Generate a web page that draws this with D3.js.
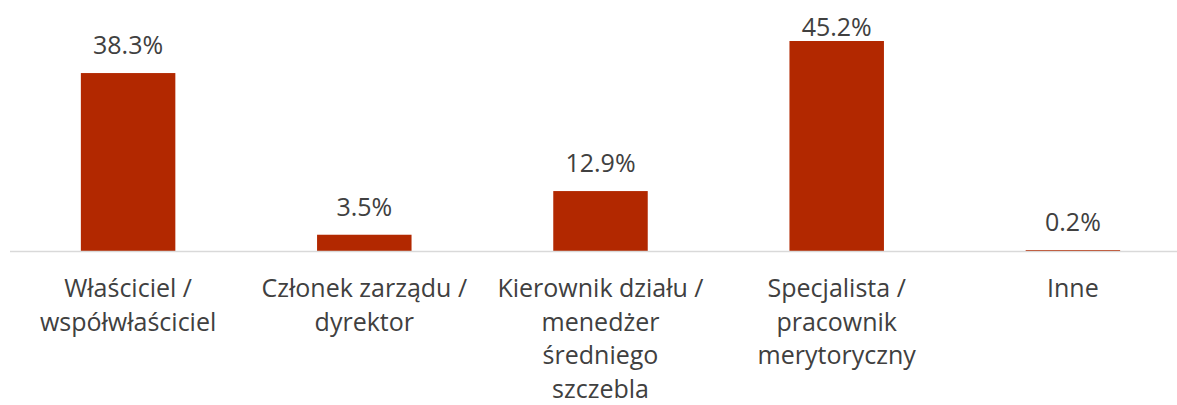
<!DOCTYPE html>
<html>
<head>
<meta charset="utf-8">
<script src="https://cdn.jsdelivr.net/npm/d3@7"></script>
<style>
  body { margin: 0; background: #fff; }
  svg text { font-family: "Open Sans", sans-serif; fill: #404040; }
</style>
</head>
<body>
<div class="chart"></div>
<script>
var categories = ["Właściciel / współwłaściciel", "Członek zarządu / dyrektor",
  "Kierownik działu / menedżer średniego szczebla", "Specjalista / pracownik merytoryczny", "Inne"]
// how each category label wraps in the picture
var labelLines = [
  ["Właściciel /", "współwłaściciel"],
  ["Członek zarządu /", "dyrektor"],
  ["Kierownik działu /", "menedżer", "średniego", "szczebla"],
  ["Specjalista /", "pracownik", "merytoryczny"],
  ["Inne"]
]
var values = [38.3, 3.5, 12.9, 45.2, 0.2]

document.addEventListener("DOMContentLoaded", draw)

function draw() {
  var width = 1177,
    height = 405,
    baseY = 251

  var svg = d3.select(".chart").append("svg")
    .attr("width", width)
    .attr("height", height)

  var x = d3.scaleBand()
    .domain(categories)
    .range([10, 1191])
    .paddingInner(0.6)
    .paddingOuter(0.3)

  var y = d3.scaleLinear()
    .domain([0, 45.2])
    .range([baseY, 41])

  var data = categories.map((c, i) => ({ cat: c, v: values[i], lines: labelLines[i] }))

  svg.append("g").selectAll("rect")
    .data(data)
    .enter().append("rect")
    .attr("x", d => x(d.cat))
    .attr("width", x.bandwidth())
    .attr("y", d => y(d.v))
    .attr("height", d => baseY - y(d.v))
    .attr("fill", "#b22800")

  // axis line
  svg.append("line")
    .attr("x1", 10).attr("x2", width)
    .attr("y1", baseY + 0.5).attr("y2", baseY + 0.5)
    .attr("stroke", "#d9d9d9")
    .attr("stroke-width", 1.5)

  // value labels
  svg.append("g").selectAll("text")
    .data(data)
    .enter().append("text")
    .attr("x", d => x(d.cat) + x.bandwidth() / 2)
    .attr("y", d => Math.max(36, y(d.v) - 19))
    .attr("text-anchor", "middle")
    .style("font-size", "25px")
    .text(d => d.v.toFixed(1) + "%")

  // category labels
  var cats = svg.append("g").selectAll("text")
    .data(data)
    .enter().append("text")
    .attr("text-anchor", "middle")
    .style("font-size", "25px")

  cats.selectAll("tspan")
    .data(d => d.lines.map(l => ({ t: l, cx: x(d.cat) + x.bandwidth() / 2 })))
    .enter().append("tspan")
    .attr("x", d => d.cx)
    .attr("y", (d, i) => 297 + i * 33.7)
    .text(d => d.t)
}
</script>
</body>
</html>
